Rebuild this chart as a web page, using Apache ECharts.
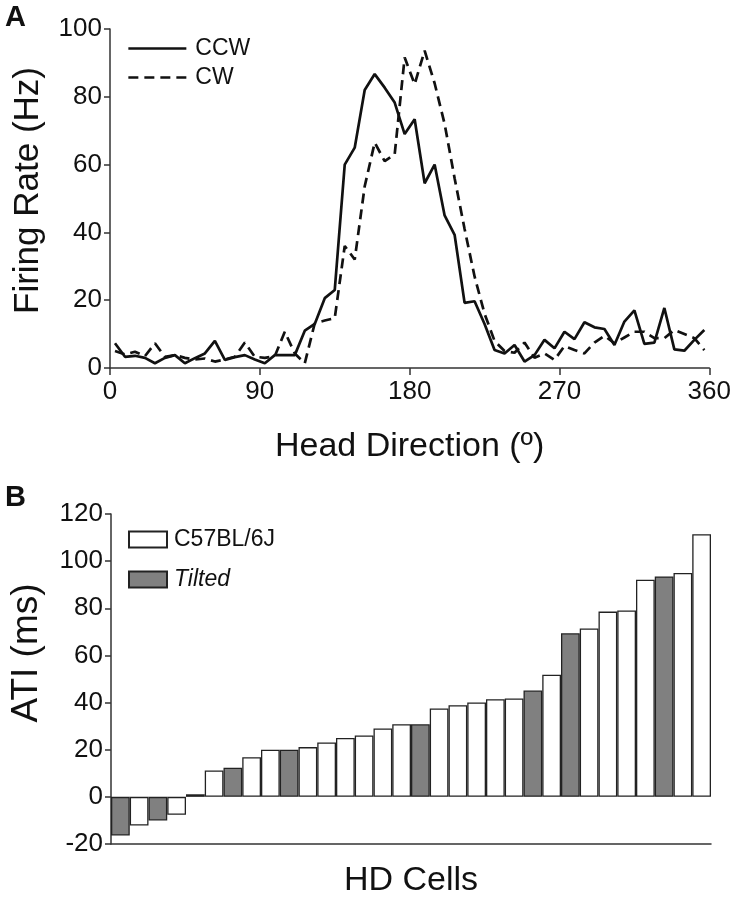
<!DOCTYPE html>
<html>
<head>
<meta charset="utf-8">
<script src="https://cdn.jsdelivr.net/npm/echarts@6/dist/echarts.min.js"></script>
<style>
html,body{margin:0;padding:0;background:#fff;}
#chart{width:734px;height:899px;}
</style>
</head>
<body>
<div id="chart"></div>
<script>
// ---------- Panel A data ----------
var headDir = [3,9,15,21,27,33,39,45,51,57,63,69,75,81,87,93,99,105,111,117,123,129,135,141,147,153,159,165,171,177,183,189,195,201,207,213,219,225,231,237,243,249,255,261,267,273,279,285,291,297,303,309,315,321,327,333,339,345,351,357];
var ccwRate = [7.3,3.3,3.6,3.0,1.4,3.0,3.8,1.4,2.9,4.3,8.0,2.4,3.2,3.8,2.5,1.4,3.8,3.8,3.8,11,13,20.6,23,60,65,82,86.7,82.7,78.3,69,73.4,54.5,60,45,39.3,19.2,19.7,13,5.3,4.3,6.8,1.9,3.8,8.3,5.8,10.7,8.5,13.5,12,11.5,6.8,13.7,17,7.1,7.5,17.7,5.5,5.1,8.3,11.2];
var cwRate = [5.0,4.0,4.8,3.5,7.3,3.3,3.8,3.0,2.5,2.8,1.9,2.5,3.3,7.5,3.3,3.0,3.5,10.7,4.3,1.4,13.2,14,14.7,36,32,53.6,66.5,61,63,91.6,83.7,93.6,84,72,56,41,27,16,8,5,4.5,7.5,3.0,4.3,2.4,6.5,5.3,4.3,7.5,9.5,7.3,9,10.7,10.7,8.8,8.8,11.2,10,8.8,5.3];
var xTicksA = [0,90,180,270,360];
var yTicksA = [0,20,40,60,80,100];

// ---------- Panel B data ----------
var atiValues = [-16.4,-12.2,-10,-7.6,1.1,11.2,12.4,16.8,20,20,21.1,23.1,25,26,29,30.8,30.8,37.5,38.9,40,41.4,41.7,45.1,51.8,69.4,71.4,78.6,79.1,92.1,93.5,95,111.4];
var atiGroup  = ['T','W','T','W','W','W','T','W','W','T','W','W','W','W','W','W','T','W','W','W','W','W','T','W','T','W','W','W','W','T','W','W'];
var groupNames = {W:'C57BL/6J', T:'Tilted'};
var yTicksB = [-20,0,20,40,60,80,100,120];

// ---------- build ----------
var cells = atiValues.map(function(v,i){return 'c'+(i+1);});
var c57Data = atiValues.map(function(v,i){return atiGroup[i]==='W'?v:null;});
var tiltData = atiValues.map(function(v,i){return atiGroup[i]==='T'?v:null;});
var ccwPts = headDir.map(function(d,i){return [d,ccwRate[i]];});
var cwPts = headDir.map(function(d,i){return [d,cwRate[i]];});

var FONT = '"Liberation Sans", Arial, sans-serif';
var AX = '#333';

var chart = echarts.init(document.getElementById('chart'), null, {renderer:'canvas'});
chart.setOption({
  animation:false,
  backgroundColor:'#fff',
  textStyle:{fontFamily:FONT,color:'#111'},
  title:[
    {text:'A', left:0, top:-2, textStyle:{fontSize:29,fontWeight:'bold',color:'#111',fontFamily:FONT}},
    {text:'B', left:0, top:478, textStyle:{fontSize:29,fontWeight:'bold',color:'#111',fontFamily:FONT}}
  ],
  grid:[
    {left:110, right:24, top:29, height:339, containLabel:false},
    {left:110, right:23, top:514, height:333, containLabel:false}
  ],
  legend:[
    {orient:'vertical', left:122, top:32, itemWidth:58, itemHeight:14, itemGap:6,
     data:['CCW','CW'],
     itemStyle:{opacity:0},
     lineStyle:{width:2.7},
     textStyle:{fontSize:23,color:'#111',fontFamily:FONT,padding:[0,0,0,4]}},
    {orient:'vertical', left:123, top:523, itemWidth:38, itemHeight:16, itemGap:17,
     icon:'rect',
     data:['C57BL/6J','Tilted'],
     formatter:function(n){return n==='Tilted'?'{i|Tilted}':n;},
     textStyle:{fontSize:23,color:'#111',fontFamily:FONT,padding:[0,0,0,2],
       rich:{i:{fontStyle:'italic',fontSize:23,color:'#111',fontFamily:FONT}}}}
  ],
  xAxis:[
    {gridIndex:0, type:'value', min:0, max:360, interval:90,
     name:'Head Direction (º)', nameLocation:'middle', nameGap:62,
     nameTextStyle:{fontSize:34,color:'#111',fontFamily:FONT},
     axisLine:{lineStyle:{color:AX,width:1.5}},
     axisTick:{show:true,length:7,lineStyle:{color:AX,width:1.5}},
     axisLabel:{fontSize:26,color:'#111',margin:11,fontFamily:FONT},
     splitLine:{show:false}},
    {gridIndex:1, type:'category', data:cells,
     name:'HD Cells', nameLocation:'middle', nameGap:20,
     nameTextStyle:{fontSize:34,color:'#111',fontFamily:FONT},
     axisLine:{onZero:false,lineStyle:{color:AX,width:1.5}},
     axisTick:{show:false}, axisLabel:{show:false}, splitLine:{show:false}}
  ],
  yAxis:[
    {gridIndex:0, type:'value', min:0, max:100, interval:20,
     name:'Firing Rate (Hz)', nameLocation:'middle', nameGap:64,
     nameTextStyle:{fontSize:35,color:'#111',fontFamily:FONT,padding:[0,0,0,16]},
     axisLine:{show:true,lineStyle:{color:AX,width:1.5}},
     axisTick:{show:true,length:6,lineStyle:{color:AX,width:1.5}},
     axisLabel:{fontSize:26,color:'#111',margin:8,fontFamily:FONT},
     splitLine:{show:false}},
    {gridIndex:1, type:'value', min:-20, max:120, interval:20,
     name:'ATI (ms)', nameLocation:'middle', nameGap:66,
     nameTextStyle:{fontSize:37,color:'#111',fontFamily:FONT,padding:[0,0,0,52]},
     axisLine:{show:true,lineStyle:{color:AX,width:1.5}},
     axisTick:{show:true,length:6,lineStyle:{color:AX,width:1.5}},
     axisLabel:{fontSize:26,color:'#111',margin:8,fontFamily:FONT},
     splitLine:{show:false}}
  ],
  series:[
    {name:'CCW', type:'line', xAxisIndex:0, yAxisIndex:0, data:ccwPts, symbol:'none',
     lineStyle:{color:'#111',width:2.7,type:'solid'}, itemStyle:{color:'#111'}},
    {name:'CW', type:'line', xAxisIndex:0, yAxisIndex:0, data:cwPts, symbol:'none',
     lineStyle:{color:'#111',width:2.7,type:[10,6]}, itemStyle:{color:'#111'}},
    {name:groupNames.W, type:'bar', xAxisIndex:1, yAxisIndex:1, data:c57Data,
     barCategoryGap:'0%', barGap:'-100%',
     itemStyle:{color:'#ffffff',borderColor:'#222',borderWidth:1.3}},
    {name:groupNames.T, type:'bar', xAxisIndex:1, yAxisIndex:1, data:tiltData,
     barCategoryGap:'0%', barGap:'-100%',
     itemStyle:{color:'#808080',borderColor:'#222',borderWidth:1.3}}
  ]
});
</script>
</body>
</html>
